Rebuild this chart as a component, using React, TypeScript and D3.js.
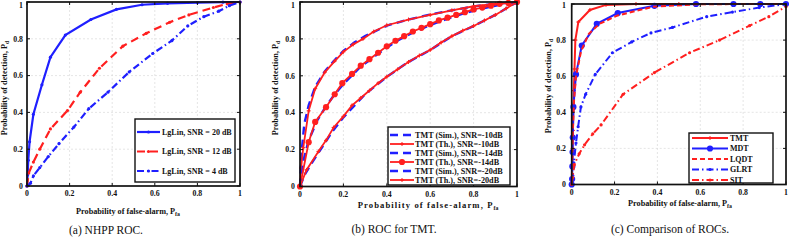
import React from "react";
import * as d3 from "d3";

// Shared axis ticks
const tickValues = [0, 0.2, 0.4, 0.6, 0.8, 1];
const tickLabels = ["0", "0.2", "0.4", "0.6", "0.8", "1"];

// (a) NHPP ROC
const pfaA20 = [0, 0.003, 0.006, 0.012, 0.03, 0.07, 0.11, 0.18, 0.3, 0.42, 0.54, 0.66, 0.8, 0.92, 1];
const pdA20 = [0, 0.06, 0.14, 0.24, 0.39, 0.55, 0.7, 0.82, 0.905, 0.96, 0.985, 0.993, 0.997, 0.999, 1];
const pfaA12 = [0, 0.008, 0.03, 0.06, 0.11, 0.19, 0.25, 0.34, 0.45, 0.56, 0.67, 0.76, 0.875, 0.94, 1];
const pdA12 = [0, 0.07, 0.13, 0.2, 0.31, 0.41, 0.51, 0.64, 0.76, 0.83, 0.89, 0.93, 0.97, 0.99, 1];
const pfaA4 = [0, 0.016, 0.03, 0.06, 0.1, 0.15, 0.22, 0.29, 0.38, 0.48, 0.59, 0.68, 0.755, 0.83, 0.9, 0.95, 1];
const pdA4 = [0, 0.015, 0.055, 0.1, 0.16, 0.23, 0.32, 0.42, 0.51, 0.62, 0.72, 0.79, 0.87, 0.92, 0.95, 0.98, 1];

// (b) ROC for TMT
const pfaB10Sim = [0, 0.004, 0.01, 0.02, 0.04, 0.07, 0.115, 0.16, 0.2, 0.25, 0.3, 0.4, 0.5, 0.6, 0.7, 0.8, 0.9, 1];
const pdB10Sim = [0, 0.12, 0.22, 0.34, 0.44, 0.54, 0.625, 0.685, 0.735, 0.78, 0.815, 0.872, 0.905, 0.932, 0.955, 0.976, 0.99, 1];
const pfaB10Th = [0, 0.005, 0.015, 0.04, 0.07, 0.115, 0.16, 0.2, 0.245, 0.29, 0.34, 0.4, 0.5, 0.6, 0.7, 0.8, 0.9, 1];
const pdB10Th = [0, 0.1, 0.21, 0.41, 0.53, 0.62, 0.68, 0.73, 0.77, 0.8, 0.84, 0.874, 0.905, 0.93, 0.955, 0.977, 0.99, 1];
const pfaB14Sim = [0, 0.02, 0.04, 0.08, 0.12, 0.16, 0.2, 0.28, 0.36, 0.44, 0.52, 0.6, 0.68, 0.76, 0.84, 0.92, 1];
const pdB14Sim = [0, 0.16, 0.25, 0.36, 0.435, 0.5, 0.555, 0.65, 0.72, 0.785, 0.835, 0.875, 0.91, 0.94, 0.965, 0.985, 1];
const pfaB14Th = [0, 0.04, 0.07, 0.12, 0.16, 0.195, 0.24, 0.28, 0.32, 0.36, 0.4, 0.44, 0.48, 0.52, 0.56, 0.6, 0.64, 0.68, 0.72, 0.76, 0.8, 0.84, 0.88, 0.92, 0.96, 1];
const pdB14Th = [0, 0.24, 0.35, 0.43, 0.5, 0.56, 0.61, 0.655, 0.69, 0.725, 0.76, 0.79, 0.815, 0.84, 0.86, 0.88, 0.9, 0.915, 0.93, 0.945, 0.96, 0.97, 0.98, 0.99, 0.995, 1];
const pfaB20Sim = [0, 0.02, 0.05, 0.1, 0.15, 0.2, 0.3, 0.4, 0.5, 0.6, 0.7, 0.8, 0.9, 1];
const pdB20Sim = [0, 0.06, 0.12, 0.21, 0.3, 0.375, 0.5, 0.595, 0.675, 0.74, 0.815, 0.87, 0.93, 1];
const pfaB20Th = [0, 0.03, 0.085, 0.12, 0.155, 0.2, 0.24, 0.28, 0.32, 0.36, 0.4, 0.45, 0.5, 0.55, 0.6, 0.65, 0.7, 0.75, 0.8, 0.85, 0.9, 0.95, 1];
const pdB20Th = [0, 0.09, 0.19, 0.25, 0.32, 0.38, 0.44, 0.48, 0.52, 0.56, 0.595, 0.635, 0.675, 0.71, 0.74, 0.78, 0.815, 0.845, 0.87, 0.9, 0.93, 0.965, 1];

// (c) Comparison of ROCs
const pfaTMT = [0, 0.002, 0.004, 0.006, 0.008, 0.01, 0.013, 0.017, 0.031, 0.085, 0.16, 0.3, 0.5, 0.75, 1];
const pdTMT = [0, 0.1, 0.2, 0.3, 0.42, 0.52, 0.64, 0.8, 0.9, 0.967, 0.995, 1, 1, 1, 1];
const pfaMDT = [0, 0.002, 0.003, 0.004, 0.005, 0.008, 0.02, 0.047, 0.117, 0.215, 0.386, 0.58, 0.755, 0.88, 1];
const pdMDT = [0, 0.03, 0.1, 0.18, 0.26, 0.43, 0.61, 0.77, 0.89, 0.95, 0.99, 1, 1, 1, 1];
const pfaLQDT = [0, 0.003, 0.006, 0.01, 0.02, 0.044, 0.08, 0.13, 0.21, 0.38, 0.58, 0.8, 1];
const pdLQDT = [0, 0.15, 0.32, 0.45, 0.6, 0.74, 0.835, 0.89, 0.935, 0.985, 0.998, 1, 1];
const pfaGLRT = [0, 0.005, 0.01, 0.02, 0.03, 0.043, 0.065, 0.11, 0.19, 0.28, 0.37, 0.47, 0.63, 0.75, 0.875, 1];
const pdGLRT = [0, 0.05, 0.12, 0.23, 0.32, 0.43, 0.5, 0.61, 0.73, 0.79, 0.84, 0.87, 0.93, 0.955, 0.98, 1];
const pfaSIT = [0, 0.004, 0.012, 0.035, 0.06, 0.098, 0.137, 0.24, 0.386, 0.55, 0.69, 0.83, 0.92, 1];
const pdSIT = [0, 0.04, 0.11, 0.17, 0.22, 0.28, 0.33, 0.5, 0.62, 0.73, 0.8, 0.88, 0.93, 0.985];

const BLUE = "#1f1fff";
const RED = "#ff1f1f";
const DASH = "8,5";
const DASHDOT = "7,3,1.5,3";
const FONT = "'Liberation Serif', 'Times New Roman', serif";

type Marker = "dot" | "circle" | "plus" | "none";
type Series = {
  x: number[];
  y: number[];
  color: string;
  dash?: string;
  width: number;
  marker: Marker;
  label: string;
};

type Layout = {
  left: number;
  right: number;
  top: number;
  bottom: number;
  yLabelRight: number;
  yTitleX: number;
  yTitleY: number;
  xTitleX: number;
  xTitleY: number;
  xTitleSize: number;
  xTitleSpacing: number;
  captionX: number;
  captionY: number;
  caption: string;
  legend: {
    x0: number;
    x1: number;
    y0: number;
    y1: number;
    firstRow: number;
    rowStep: number;
    sx0: number;
    sx1: number;
    textX: number;
    fontSize: number;
  };
};

function MarkerGlyph({ kind, cx, cy, color }: { kind: Marker; cx: number; cy: number; color: string }) {
  if (kind === "dot") return <circle cx={cx} cy={cy} r={1.6} fill={color} />;
  if (kind === "circle") return <circle cx={cx} cy={cy} r={3.1} fill={color} />;
  if (kind === "plus")
    return (
      <g stroke={color} strokeWidth={1}>
        <line x1={cx - 2} x2={cx + 2} y1={cy} y2={cy} />
        <line x1={cx} x2={cx} y1={cy - 2} y2={cy + 2} />
        <circle cx={cx} cy={cy} r={1.1} fill={color} stroke="none" />
      </g>
    );
  return null;
}

function Panel({ L, series }: { L: Layout; series: Series[] }) {
  const xs = d3.scaleLinear().domain([0, 1]).range([L.left, L.right]);
  const ys = d3.scaleLinear().domain([0, 1]).range([L.bottom, L.top]);
  const lg = L.legend;
  return (
    <g>
      {/* grid */}
      {tickValues.slice(1, -1).map((t) => (
        <g key={"g" + t} stroke="#d4d4d4" strokeWidth={0.6} strokeDasharray="2,2">
          <line x1={xs(t)} x2={xs(t)} y1={L.top} y2={L.bottom} />
          <line x1={L.left} x2={L.right} y1={ys(t)} y2={ys(t)} />
        </g>
      ))}
      {/* curves */}
      {series.map((s, i) => {
        const pts = s.x.map((v, k) => [v, s.y[k]] as [number, number]);
        const path = d3
          .line<[number, number]>()
          .x((d) => xs(d[0]))
          .y((d) => ys(d[1]))(pts);
        return (
          <g key={"s" + i}>
            <path d={path || ""} fill="none" stroke={s.color} strokeWidth={s.width} strokeDasharray={s.dash} />
            {pts.map((d, k) => (
              <MarkerGlyph key={k} kind={s.marker} cx={xs(d[0])} cy={ys(d[1])} color={s.color} />
            ))}
          </g>
        );
      })}
      {/* frame */}
      <rect x={L.left} y={L.top} width={L.right - L.left} height={L.bottom - L.top} fill="none" stroke="#111" strokeWidth={1.7} />
      {/* ticks */}
      {tickValues.map((t, i) => (
        <g key={"t" + t}>
          <line x1={xs(t)} x2={xs(t)} y1={L.bottom} y2={L.bottom - 3} stroke="#111" strokeWidth={1} />
          <line x1={xs(t)} x2={xs(t)} y1={L.top} y2={L.top + 3} stroke="#111" strokeWidth={1} />
          <line x1={L.left} x2={L.left + 3} y1={ys(t)} y2={ys(t)} stroke="#111" strokeWidth={1} />
          <line x1={L.right} x2={L.right - 3} y1={ys(t)} y2={ys(t)} stroke="#111" strokeWidth={1} />
          <text x={xs(t)} y={L.bottom + 10} textAnchor="middle" fontSize={7.8} fontWeight="bold" fontFamily={FONT} fill="#111">
            {tickLabels[i]}
          </text>
          <text x={L.yLabelRight} y={Math.max(ys(t) + 2.7, 7.5)} textAnchor="end" fontSize={7.8} fontWeight="bold" fontFamily={FONT} fill="#111">
            {tickLabels[i]}
          </text>
        </g>
      ))}
      {/* axis titles */}
      <text
        x={L.xTitleX}
        y={L.xTitleY}
        textAnchor="middle"
        fontSize={L.xTitleSize}
        fontWeight="bold"
        fontFamily={FONT}
        fill="#111"
        letterSpacing={L.xTitleSpacing}
      >
        Probability of false-alarm, P
        <tspan fontSize={5.8} dy={2} letterSpacing={0}>fa</tspan>
      </text>
      <text
        transform={`translate(${L.yTitleX},${L.yTitleY}) rotate(-90)`}
        textAnchor="middle"
        fontSize={8.2}
        fontWeight="bold"
        fontFamily={FONT}
        fill="#111"
      >
        Probability of detection, P
        <tspan fontSize={5.8} dy={2}>d</tspan>
      </text>
      {/* legend */}
      <rect x={lg.x0} y={lg.y0} width={lg.x1 - lg.x0} height={lg.y1 - lg.y0} fill="#fff" stroke="#111" strokeWidth={1.4} />
      {series.map((s, i) => {
        const y = lg.firstRow + i * lg.rowStep;
        return (
          <g key={"l" + i}>
            <line x1={lg.sx0} x2={lg.sx1} y1={y} y2={y} stroke={s.color} strokeWidth={s.width} strokeDasharray={s.dash} />
            <MarkerGlyph kind={s.marker} cx={(lg.sx0 + lg.sx1) / 2} cy={y} color={s.color} />
            <text x={lg.textX} y={y + 2.6} fontSize={lg.fontSize} fontWeight="bold" fontFamily={FONT} fill="#111">
              {s.label}
            </text>
          </g>
        );
      })}
      {/* caption */}
      <text x={L.captionX} y={L.captionY} textAnchor="middle" fontSize={11.5} fontFamily={FONT} fill="#111">
        {L.caption}
      </text>
    </g>
  );
}

const seriesA: Series[] = [
  { x: pfaA20, y: pdA20, color: BLUE, width: 2.2, marker: "dot", label: "LgLin, SNR = 20 dB" },
  { x: pfaA12, y: pdA12, color: RED, width: 2.2, dash: DASH, marker: "dot", label: "LgLin, SNR = 12 dB" },
  { x: pfaA4, y: pdA4, color: BLUE, width: 2.2, dash: DASHDOT, marker: "dot", label: "LgLin, SNR = 4 dB" },
];

const seriesB: Series[] = [
  { x: pfaB10Sim, y: pdB10Sim, color: BLUE, width: 2.4, dash: DASH, marker: "none", label: "TMT (Sim.), SNR=-10dB" },
  { x: pfaB10Th, y: pdB10Th, color: RED, width: 1.8, marker: "plus", label: "TMT (Th.), SNR=-10dB" },
  { x: pfaB14Sim, y: pdB14Sim, color: BLUE, width: 2.4, dash: DASH, marker: "none", label: "TMT (Sim.), SNR=-14dB" },
  { x: pfaB14Th, y: pdB14Th, color: RED, width: 1.8, marker: "circle", label: "TMT (Th.), SNR=-14dB" },
  { x: pfaB20Sim, y: pdB20Sim, color: BLUE, width: 2.4, dash: DASH, marker: "none", label: "TMT (Sim.), SNR=-20dB" },
  { x: pfaB20Th, y: pdB20Th, color: RED, width: 1.8, marker: "plus", label: "TMT (Th.), SNR=-20dB" },
];

const seriesC: Series[] = [
  { x: pfaTMT, y: pdTMT, color: RED, width: 2, marker: "plus", label: "TMT" },
  { x: pfaMDT, y: pdMDT, color: BLUE, width: 2, marker: "circle", label: "MDT" },
  { x: pfaLQDT, y: pdLQDT, color: RED, width: 2, dash: "5,3", marker: "none", label: "LQDT" },
  { x: pfaGLRT, y: pdGLRT, color: BLUE, width: 2, dash: DASHDOT, marker: "dot", label: "GLRT" },
  { x: pfaSIT, y: pdSIT, color: RED, width: 2, dash: DASHDOT, marker: "dot", label: "SIT" },
];

const layoutA: Layout = {
  left: 27, right: 240, top: 2, bottom: 186,
  yLabelRight: 23, yTitleX: 7, yTitleY: 88,
  xTitleX: 128, xTitleY: 214, xTitleSize: 8.2, xTitleSpacing: 0,
  captionX: 106, captionY: 234, caption: "(a)  NHPP ROC.",
  legend: { x0: 135, x1: 235, y0: 119, y1: 182, firstRow: 132, rowStep: 19.5, sx0: 137, sx1: 160, textX: 162, fontSize: 8 },
};

const layoutB: Layout = {
  left: 300, right: 517, top: 2, bottom: 186.5,
  yLabelRight: 295, yTitleX: 278, yTitleY: 88,
  xTitleX: 428, xTitleY: 207.5, xTitleSize: 8.6, xTitleSpacing: 1.1,
  captionX: 394, captionY: 233, caption: "(b)  ROC for TMT.",
  legend: { x0: 388, x1: 510, y0: 127, y1: 185, firstRow: 135, rowStep: 9, sx0: 390, sx1: 414, textX: 415, fontSize: 8.2 },
};

const layoutC: Layout = {
  left: 571.7, right: 786, top: 4, bottom: 184.5,
  yLabelRight: 566, yTitleX: 551, yTitleY: 86,
  xTitleX: 680, xTitleY: 206, xTitleSize: 8.2, xTitleSpacing: 0,
  captionX: 670, captionY: 233, caption: "(c)  Comparison of ROCs.",
  legend: { x0: 689, x1: 773, y0: 133, y1: 183, firstRow: 138, rowStep: 10.5, sx0: 692, sx1: 728, textX: 730, fontSize: 8 },
};

export default function App() {
  return (
    <svg
      width={789}
      height={240}
      viewBox="0 0 789 240"
      style={{ position: "fixed", left: 0, top: 0, background: "#fff" }}
    >
      <rect width={789} height={240} fill="#fff" />
      <Panel L={layoutA} series={seriesA} />
      <Panel L={layoutB} series={seriesB} />
      <Panel L={layoutC} series={seriesC} />
    </svg>
  );
}
